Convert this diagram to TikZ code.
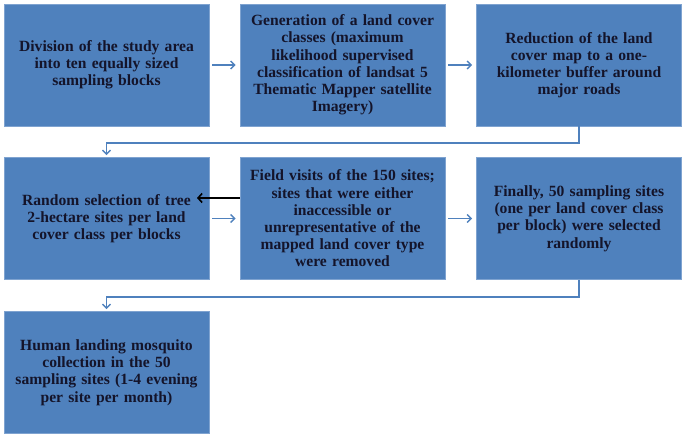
\documentclass[tikz,border=0pt]{standalone}
\usepackage{fontspec}
\setmainfont{Liberation Serif}
\usetikzlibrary{arrows.meta}
\definecolor{boxblue}{HTML}{4F81BD}
\definecolor{edgeblue}{HTML}{7FA3D0}
\definecolor{txt}{HTML}{14142A}

\begin{document}
\begin{tikzpicture}[x=1pt, y=-1pt]
\tikzset{boite/.style={draw=edgeblue, line width=0.8pt, fill=boxblue, minimum width=205pt, minimum height=122pt, text width=201pt, align=center, font=\fontsize{15.6}{17.2}\selectfont\bfseries, text=txt, inner sep=0pt}}
\tikzset{fleche/.style={draw=boxblue, line width=1.4pt, -{Straight Barb[length=4pt, width=8pt]}, shorten <=3pt, shorten >=4pt}}
\useasboundingbox (0,0) rectangle (687,439);
\node[boite] (B1) at (106.5, 65) {Division of the study area\\into ten equally sized\\sampling blocks};
\node[boite] (B2) at (342.5, 65) {Generation of a land cover\\classes (maximum\\likelihood supervised\\classification of landsat 5\\Thematic Mapper satellite\\Imagery)};
\node[boite] (B3) at (579, 65) {Reduction of the land\\cover map to a one-\\kilometer buffer around\\major roads};
\node[boite] (B4) at (106.5, 218.5) {Random selection of tree\\2-hectare sites per land\\cover class per blocks};
\node[boite] (B5) at (342.5, 218.5) {Field visits of the 150 sites;\\sites that were either\\inaccessible or\\unrepresentative of the\\mapped land cover type\\were removed};
\node[boite] (B6) at (579, 218.5) {Finally, 50 sampling sites\\(one per land cover class\\per block) were selected\\randomly};
\node[boite] (B7) at (106.5, 372.5) {Human landing mosquito\\collection in the 50\\sampling sites (1-4 evening\\per site per month)};
\coordinate (K) at (197, 198);
\draw[fleche] (B1) -- (B2);
\draw[fleche] (B2) -- (B3);
\draw[fleche, shorten <=0pt, shorten >=2pt] (B3.south) -- ++(0,16.5) -| (B4.north);
\draw[fleche] (B4) -- (B5);
\draw[black, line width=1.6pt, -{Straight Barb[length=4pt, width=9pt]}] (B5.west |- K) -- (K);
\draw[fleche] (B5) -- (B6);
\draw[fleche, shorten <=0pt, shorten >=2pt] (B6.south) -- ++(0,17) -| (B7.north);
\end{tikzpicture}
\end{document}
